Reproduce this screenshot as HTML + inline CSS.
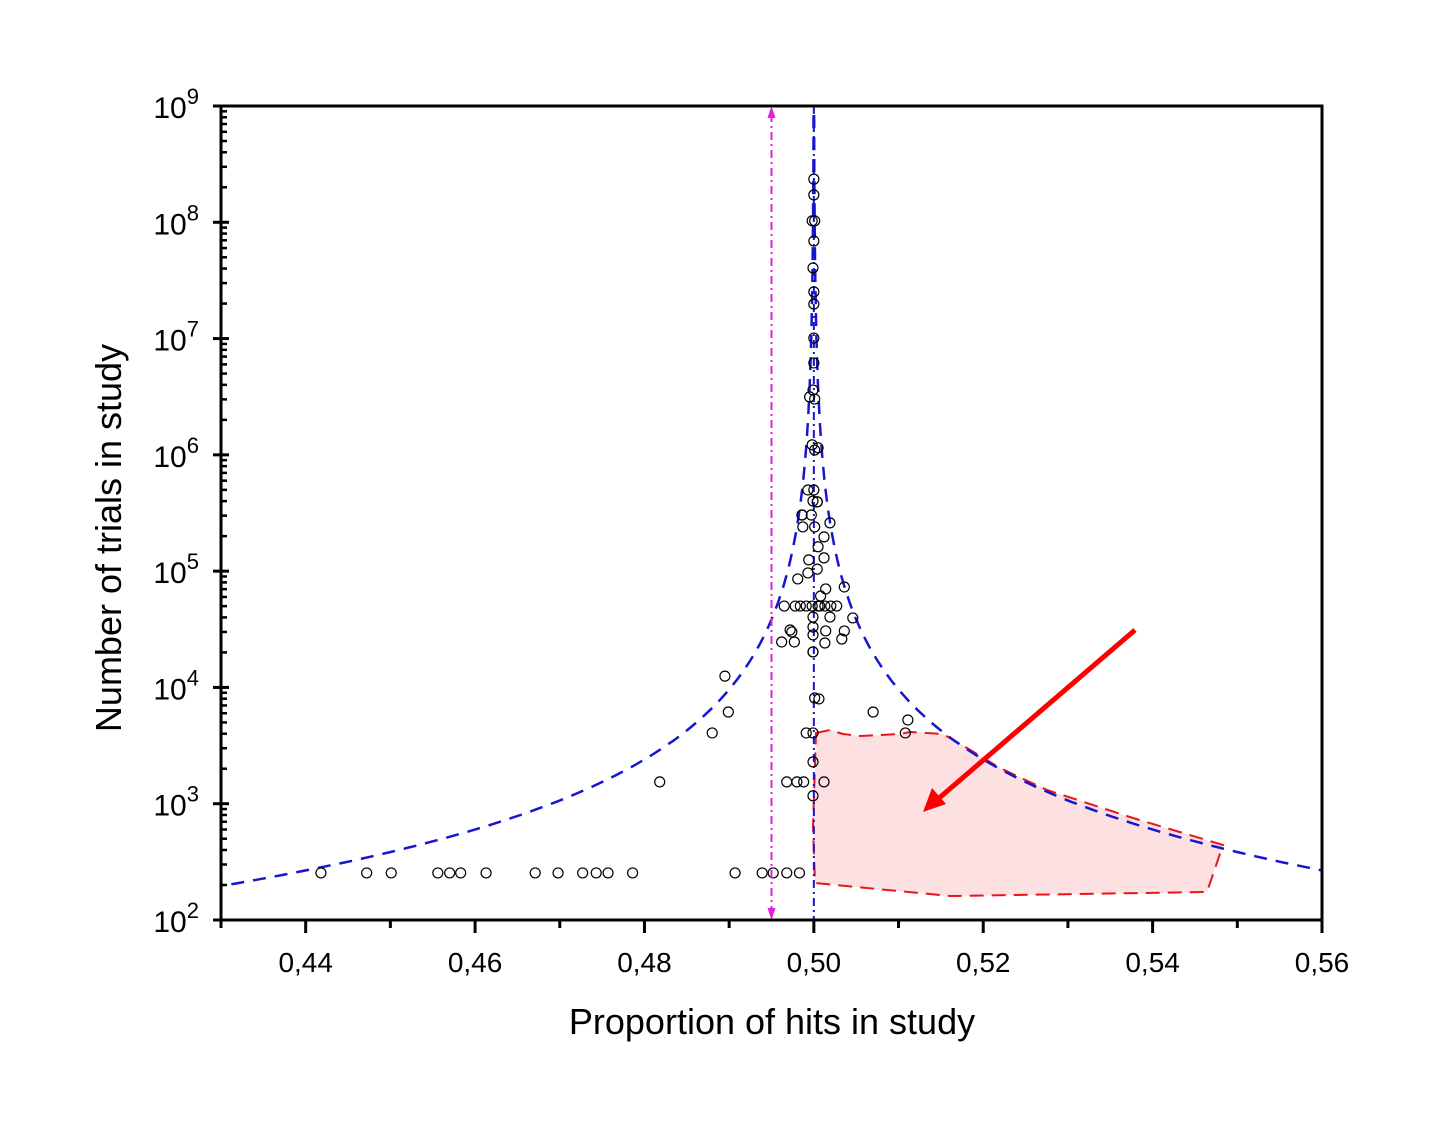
<!DOCTYPE html>
<html><head><meta charset="utf-8"><style>
body{margin:0;background:#fff}
svg{display:block;font-family:"Liberation Sans",Arial,sans-serif}
</style></head><body>
<svg id="chart" width="1436" height="1126" viewBox="0 0 1436 1126" xmlns="http://www.w3.org/2000/svg">
<g id="ann">
<polygon points="816,733 830,730 843,734 860,736 900,734 910,732 943,734 967,748 1000,768 1047,790 1133,818 1223,845 1207,892 950,896 815,883 813,827" fill="#fde0e2" stroke="#e8151b" stroke-width="2" stroke-dasharray="14,8"/>
</g>
<g id="curves"></g>
<g id="points"></g>
<g id="axes"></g>
<g>
<line x1="1135" y1="630" x2="938" y2="799" stroke="#f00" stroke-width="5"/>
<polygon points="923,812 932,788 946,804" fill="#f00"/>
</g>
<text x="772" y="1034" font-size="36" text-anchor="middle">Proportion of hits in study</text>
<text transform="translate(121,538) rotate(-90)" font-size="36" text-anchor="middle">Number of trials in study</text>
</svg>
<script>
const xs=[0.4418,0.4472,0.4501,0.4556,0.4570,0.4583,0.4613,0.4671,0.4698,0.4727,0.4743,0.4757,0.4786,0.4907,0.4939,0.4952,0.4968,0.4983,
0.4818,0.4880,0.4895,0.4899,0.5070,0.5108,0.5111,0.4991,0.4999,0.5001,0.5006,0.4999,0.4968,0.4980,0.4988,0.5012,0.4999,
0.4999,0.5004,0.4965,0.4978,0.4984,0.4991,0.4998,0.5005,0.5007,0.5013,0.5020,0.5027,0.4999,0.5019,0.5046,
0.4972,0.4974,0.4999,0.5014,0.5036,0.4962,0.4977,0.4999,0.5013,0.5033,0.4999,
0.5004,0.4986,0.4997,0.4987,0.5001,0.5019,0.5012,0.5005,0.4994,0.5012,0.5004,0.4993,0.4981,0.5014,0.5036,0.5008,
0.5000,0.5000,0.4998,0.5001,0.5000,0.4999,0.5000,0.5000,0.5000,0.5000,0.4999,0.4995,0.5001,0.4998,0.5005,0.5001,0.4993,0.5000,0.4986,0.4999];
const ns=[254,254,254,254,254,254,254,254,254,254,254,254,254,254,254,254,254,254,
1540,4060,12500,6150,6150,4060,5250,4060,4060,8110,7960,2290,1540,1540,1540,1540,1170,
20200,394000,50100,50100,50100,50100,50100,50100,50100,50100,50100,50100,40300,40300,39600,
31200,30000,33100,30600,30600,24600,24600,28300,24100,26100,20200,
394000,304000,304000,240000,240000,260000,197000,162000,125000,130000,104000,96500,85700,70300,73100,61100,
235000000,172000000,103000000,103000000,69000000,40500000,25200000,19800000,10100000,6170000,3610000,3150000,3020000,1220000,1150000,1100000,499000,499000,304000,401000];
const xTicks=[0.44,0.46,0.48,0.50,0.52,0.54,0.56];
const xTickLabels=["0,44","0,46","0,48","0,50","0,52","0,54","0,56"];
const yExps=[2,3,4,5,6,7,8,9];
const funnelK=[0.98];
const pMean=[0.5];
const pAlt=[0.495];
const L=221,R=1322,T=106,B=920,X0=0.43,X1=0.56,Y0=2,Y1=9;
const sx=v=>L+(v-X0)/(X1-X0)*(R-L);
const sy=v=>B-(Math.log10(v)-Y0)/(Y1-Y0)*(B-T);
const NS="http://www.w3.org/2000/svg";
function mk(tag,attrs,parent){const e=document.createElementNS(NS,tag);for(const k in attrs)e.setAttribute(k,attrs[k]);parent.appendChild(e);return e;}
const axes=document.getElementById('axes'),curves=document.getElementById('curves'),pts=document.getElementById('points');
// clip
const defs=mk('defs',{},document.getElementById('chart'));
const cp=mk('clipPath',{id:'pc'},defs);mk('rect',{x:L,y:T,width:R-L,height:B-T},cp);
curves.setAttribute('clip-path','url(#pc)');
// funnel curves
[-1,1].forEach(s=>{let d='';for(let i=0;i<=400;i++){const lg=1.9+i*(7.2/400);const n=Math.pow(10,lg);const x=pMean[0]+s*funnelK[0]/Math.sqrt(n);d+=(i?'L':'M')+sx(x).toFixed(1)+','+sy(n).toFixed(1);}
const p=mk('path',{d:d,fill:'none',stroke:'#1616d0','stroke-width':2.5,'stroke-dasharray':'13,9'},curves);

});
const ml=mk('line',{x1:sx(pMean[0]),x2:sx(pMean[0]),y1:T,y2:B,stroke:'#1616d0','stroke-width':2,'stroke-dasharray':'8,4,2,4'},curves);


const al=mk('line',{x1:sx(pAlt[0]),x2:sx(pAlt[0]),y1:T+8,y2:B-8,stroke:'#e020e0','stroke-width':2,'stroke-dasharray':'8,4,2,4'},axes);


const ax=sx(pAlt[0]);
mk('polygon',{points:`${ax},${T} ${ax-4},${T+12} ${ax+4},${T+12}`,fill:'#e020e0'},axes);
mk('polygon',{points:`${ax},${B} ${ax-4},${B-12} ${ax+4},${B-12}`,fill:'#e020e0'},axes);
// points
xs.forEach((x,i)=>{const c=mk('circle',{cx:sx(x),cy:sy(ns[i]),r:5,fill:'none',stroke:'#000','stroke-width':1.2},pts);

});
// frame
const fr=mk('rect',{x:L,y:T,width:R-L,height:B-T,fill:'none',stroke:'#000','stroke-width':3},axes);


// x ticks
for(let v=0.43;v<=0.5601;v+=0.01){const px=sx(v);const major=xTicks.some(t=>Math.abs(t-v)<1e-6);mk('line',{x1:px,x2:px,y1:B,y2:B+(major?13:8),stroke:'#000','stroke-width':3},axes);}
xTicks.forEach((v,i)=>{const t=mk('text',{x:sx(v),y:B+52,'font-size':28,'text-anchor':'middle'},axes);t.textContent=xTickLabels[i];

});
// y ticks
yExps.forEach((e,i)=>{const py=sy(Math.pow(10,e));mk('line',{x1:L-8,x2:L+8,y1:py,y2:py,stroke:'#000','stroke-width':3},axes);
if(i<yExps.length-1){for(let m=2;m<=9;m++){const my=sy(m*Math.pow(10,e));mk('line',{x1:L,x2:L+6,y1:my,y2:my,stroke:'#000','stroke-width':2.5},axes);}}
const t=mk('text',{x:L-22,y:py+12,'font-size':30,'text-anchor':'end'},axes);


const b=mk('tspan',{},t);b.textContent='10';const s=mk('tspan',{dy:-14,'font-size':22},t);s.textContent=String(e);});
</script>
</body></html>
